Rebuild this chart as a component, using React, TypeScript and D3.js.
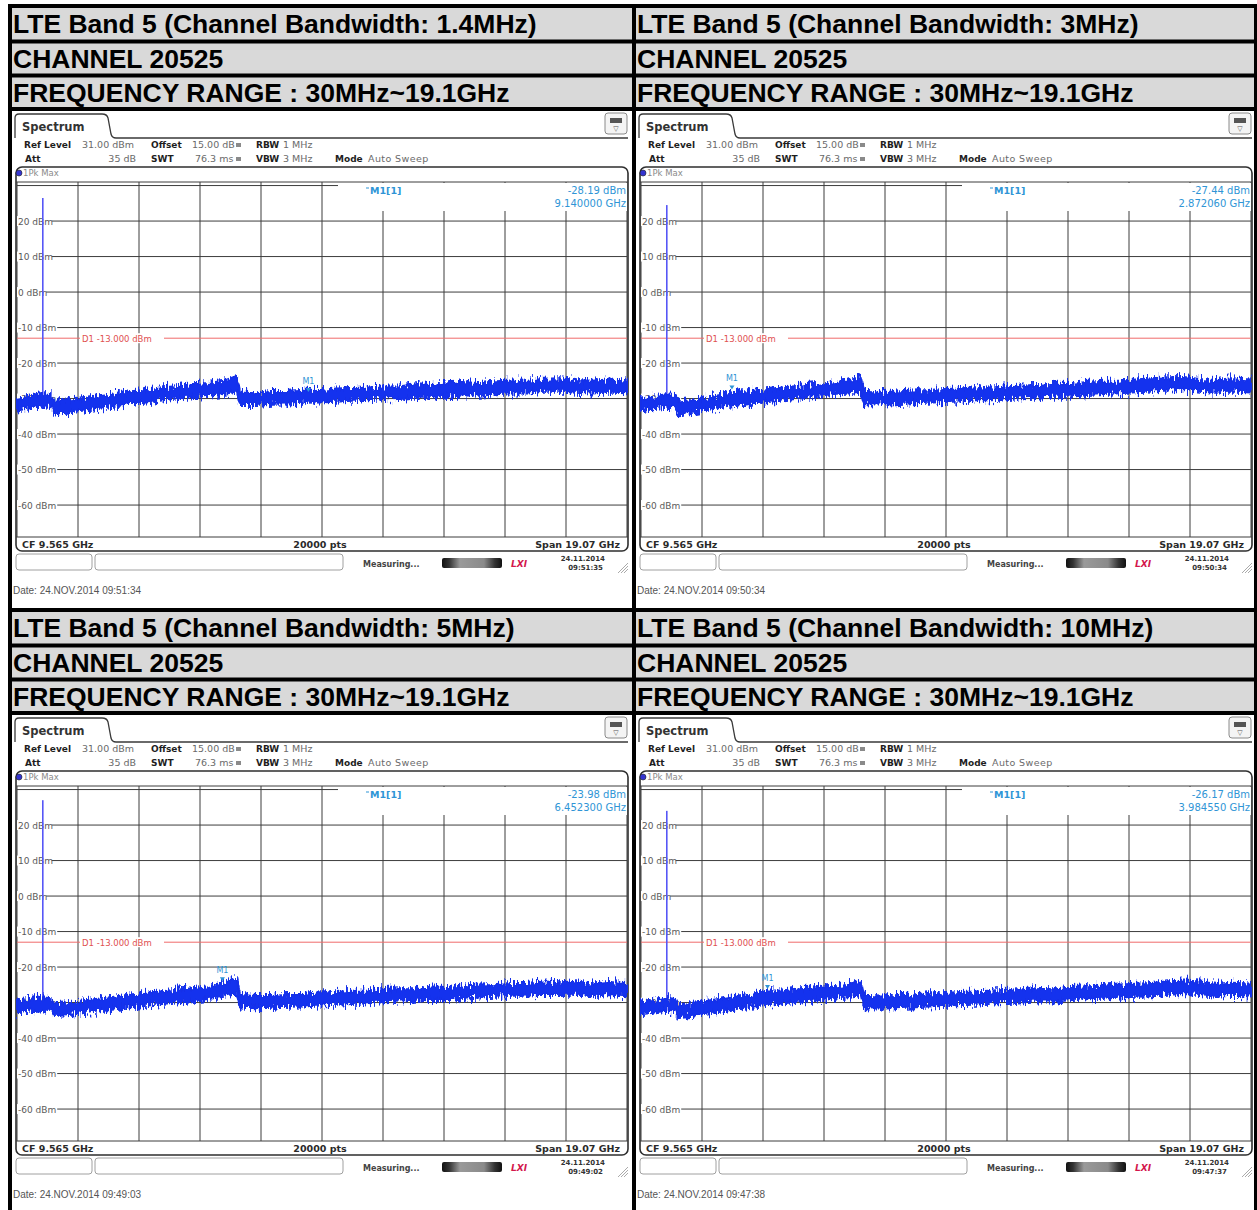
import React from "react";
import * as d3 from "d3";

// ---------------- Data ----------------
const PANEL_TITLES = [
  "LTE Band 5 (Channel Bandwidth: 1.4MHz)",
  "LTE Band 5 (Channel Bandwidth: 3MHz)",
  "LTE Band 5 (Channel Bandwidth: 5MHz)",
  "LTE Band 5 (Channel Bandwidth: 10MHz)",
];
const CHANNEL_TEXT = "CHANNEL 20525";
const RANGE_TEXT = "FREQUENCY RANGE : 30MHz~19.1GHz";

const START_GHZ = 0.03;
const STOP_GHZ = 19.1;
const REF_LEVEL_DBM = 31;
const BOTTOM_LEVEL_DBM = -69;
const DISPLAY_LINE_DBM = -13;

const Y_GRID_DBM = [30, 20, 10, 0, -10, -20, -30, -40, -50, -60];
const Y_LABEL_DBM = [20, 10, 0, -10, -20, -30, -40, -50, -60];

const FREQ_GHZ = [
  0.03, 0.4, 0.8, 1.1, 1.2, 1.6, 2.0, 2.5, 3.0, 3.5, 4.0, 4.5, 5.0, 5.5, 6.0, 6.5, 6.9, 7.0,
  7.5, 8.0, 8.5, 9.0, 9.5, 10.0, 10.5, 11.0, 11.5, 12.0, 12.5, 13.0, 13.5, 14.0, 14.5, 15.0,
  15.5, 16.0, 16.5, 17.0, 17.5, 18.0, 18.5, 19.1,
];

// upper / lower envelope of the max-hold noise trace (dBm)
const HI_1P4 = [
  -29.8, -29.2, -28.4, -28.8, -30.6, -30.3, -30.0, -29.4, -28.9, -28.0, -27.6, -26.9, -26.5, -26.0,
  -25.6, -25.0, -23.6, -28.0, -28.2, -27.9, -27.8, -27.5, -27.6, -27.2, -27.0, -26.9, -26.6, -26.5,
  -26.0, -26.2, -25.7, -25.4, -25.6, -25.1, -24.9, -25.0, -24.4, -24.3, -24.8, -25.0, -24.6, -24.9,
];
const LO_1P4 = [
  -33.4, -32.8, -32.2, -32.4, -34.2, -34.0, -33.5, -33.0, -32.4, -31.6, -31.2, -30.6, -30.0, -29.7,
  -29.2, -28.7, -28.0, -31.8, -31.8, -31.5, -31.4, -31.2, -31.1, -30.9, -30.6, -30.5, -30.2, -30.1,
  -29.7, -29.8, -29.4, -29.1, -29.2, -28.8, -28.5, -28.6, -28.1, -28.0, -28.4, -28.6, -28.3, -28.5,
];
const HI_3 = [
  -30.0, -29.5, -28.8, -29.0, -30.8, -30.4, -29.9, -29.0, -28.0, -27.9, -27.3, -26.8, -26.4, -25.9,
  -25.5, -24.9, -23.9, -27.8, -28.1, -28.0, -27.7, -27.6, -27.3, -27.2, -26.8, -26.9, -26.5, -26.3,
  -26.1, -25.8, -25.9, -25.3, -25.0, -24.9, -24.6, -24.3, -24.0, -23.9, -24.5, -24.8, -24.3, -24.6,
];
const LO_3 = [
  -33.6, -33.0, -32.6, -32.7, -34.4, -34.1, -33.4, -32.7, -32.0, -31.5, -31.0, -30.5, -30.0, -29.6,
  -29.1, -28.6, -28.0, -31.6, -31.7, -31.6, -31.3, -31.2, -31.0, -30.8, -30.5, -30.5, -30.1, -29.9,
  -29.7, -29.4, -29.5, -29.0, -28.7, -28.5, -28.2, -28.0, -27.7, -27.6, -28.1, -28.4, -28.0, -28.3,
];
const HI_5 = [
  -29.4, -29.0, -28.5, -28.8, -30.2, -29.9, -29.5, -29.0, -28.4, -27.8, -27.3, -26.9, -26.4, -26.0,
  -25.4, -24.2, -23.0, -27.6, -27.9, -27.8, -27.6, -27.5, -27.1, -27.0, -26.7, -26.6, -26.2, -26.0,
  -25.9, -25.5, -25.6, -25.2, -24.9, -24.8, -24.5, -24.4, -24.1, -24.3, -24.0, -24.6, -24.2, -24.5,
];
const LO_5 = [
  -33.0, -32.6, -32.2, -32.4, -33.8, -33.6, -33.1, -32.6, -32.0, -31.4, -31.0, -30.5, -30.0, -29.6,
  -29.0, -28.4, -27.6, -31.4, -31.6, -31.5, -31.2, -31.1, -30.8, -30.6, -30.4, -30.2, -29.9, -29.7,
  -29.5, -29.2, -29.3, -28.9, -28.6, -28.4, -28.1, -28.0, -27.8, -27.9, -27.7, -28.2, -27.9, -28.2,
];
const HI_10 = [
  -29.7, -29.3, -28.7, -28.9, -30.5, -30.1, -29.6, -28.9, -28.1, -27.5, -26.6, -26.5, -26.0, -25.7,
  -25.3, -24.8, -23.8, -27.8, -28.0, -27.9, -27.7, -27.4, -27.3, -27.0, -26.9, -26.6, -26.4, -26.2,
  -25.9, -26.0, -25.6, -25.4, -25.2, -24.9, -24.7, -24.5, -24.0, -23.8, -24.1, -24.7, -24.4, -24.6,
];
const LO_10 = [
  -33.3, -32.9, -32.3, -32.5, -34.1, -33.8, -33.2, -32.6, -31.8, -31.2, -30.6, -30.2, -29.7, -29.4,
  -29.0, -28.5, -27.8, -31.6, -31.7, -31.6, -31.4, -31.1, -31.0, -30.7, -30.6, -30.3, -30.1, -29.9,
  -29.6, -29.7, -29.3, -29.1, -28.9, -28.6, -28.4, -28.2, -27.8, -27.6, -27.9, -28.4, -28.1, -28.3,
];
const TRACE_HI = [HI_1P4, HI_3, HI_5, HI_10];
const TRACE_LO = [LO_1P4, LO_3, LO_5, LO_10];

const CARRIER_GHZ = 0.8365;
const CARRIER_PEAK_DBM = [26.5, 24.5, 27.0, 24.0];

const MARKER_FREQ_GHZ = [9.14, 2.87206, 6.4523, 3.98455];
const MARKER_LEVEL_DBM = [-28.19, -27.44, -23.98, -26.17];
const MARKER_LEVEL_TEXT = ["-28.19 dBm", "-27.44 dBm", "-23.98 dBm", "-26.17 dBm"];
const MARKER_FREQ_TEXT = ["9.140000 GHz", "2.872060 GHz", "6.452300 GHz", "3.984550 GHz"];
const STATUS_TIME = ["09:51:35", "09:50:34", "09:49:02", "09:47:37"];
const SAVE_TIME = ["09:51:34", "09:50:34", "09:49:03", "09:47:38"];

// ---------------- Layout ----------------
const INST = "'DejaVu Sans', Verdana, sans-serif";
const TITLE_FONT = "'Liberation Sans', Arial, Helvetica, sans-serif";
const COL_X = [12, 636];
const COL_W = [620, 618];
const BLOCKS = [
  { rows: [[8, 31.5], [43.5, 30], [77.5, 29.5]], img: [111, 497] },
  { rows: [[612, 31.5], [647.5, 30], [681.5, 29.5]], img: [715, 495] },
];

function Panel({ idx, x0, y0, w, h }: { idx: number; x0: number; y0: number; w: number; h: number }) {
  const x = d3.scaleLinear().domain([START_GHZ, STOP_GHZ]).range([5, 615]);
  const y = d3.scaleLinear().domain([BOTTOM_LEVEL_DBM, REF_LEVEL_DBM]).range([426, 71]);
  const pts = FREQ_GHZ.map((f, i) => ({ f, hi: TRACE_HI[idx][i], lo: TRACE_LO[idx][i] }));
  const areaPath = d3
    .area<{ f: number; hi: number; lo: number }>()
    .x((d) => x(d.f))
    .y0((d) => y(d.lo))
    .y1((d) => y(d.hi))(pts) as string;
  const xGrid = d3.range(11).map((i) => x(START_GHZ + (i * (STOP_GHZ - START_GHZ)) / 10));
  const clipId = `pclip${idx}`;
  const gradId = `pgrad${idx}`;
  const noiseId = `pnoise${idx}`;
  const mx = x(MARKER_FREQ_GHZ[idx]);
  const my = y(MARKER_LEVEL_DBM[idx]);
  const cx = x(CARRIER_GHZ);
  const textDark = "#1e1e1e";
  const textGrey = "#6a6a6a";
  const mkColor = "#2f95d6";
  return (
    <g transform={`translate(${x0},${y0})`}>
      <defs>
        <clipPath id={clipId}>
          <rect x={0} y={0} width={w} height={h} />
        </clipPath>
        <linearGradient id={gradId} x1="0" x2="1" y1="0" y2="0">
          <stop offset="0" stopColor="#111" />
          <stop offset="0.12" stopColor="#333" />
          <stop offset="0.3" stopColor="#9a9a9a" />
          <stop offset="0.7" stopColor="#8a8a8a" />
          <stop offset="0.88" stopColor="#333" />
          <stop offset="1" stopColor="#111" />
        </linearGradient>
        <filter
          id={noiseId}
          filterUnits="userSpaceOnUse"
          x={0}
          y={200}
          width={620}
          height={160}
          colorInterpolationFilters="sRGB"
        >
          <feTurbulence type="fractalNoise" baseFrequency="0.55 0.12" numOctaves={2} seed={idx + 4} result="t" />
          <feColorMatrix
            in="t"
            type="matrix"
            values="1.6 0 0 0 -0.3  0 0 0 0 0.5  0 0 0 0 0  0 0 0 0 1"
            result="m"
          />
          <feDisplacementMap in="SourceGraphic" in2="m" scale={10} xChannelSelector="G" yChannelSelector="R" />
        </filter>
      </defs>
      <g clipPath={`url(#${clipId})`}>
        <rect x={0} y={0} width={w} height={h} fill="#fff" />
        {/* tab */}
        <path
          d="M3,27 L3,7 Q3,3 7,3 L90,3 Q95,3 96,7 L99,23 Q100,27 104,27 L616,27"
          fill="none"
          stroke="#3a3a3a"
          strokeWidth={1.3}
        />
        <text x={10} y={20} fontFamily={INST} fontSize={11.5} fontWeight="bold" fill="#333">
          Spectrum
        </text>
        {/* icon box */}
        <rect x={593} y={2} width={22} height={21} rx={3} fill="#f4f4f4" stroke="#8a8a8a" />
        <rect x={598} y={7} width={12} height={5} fill="#555" />
        <text x={604} y={20} fontFamily={INST} fontSize={7} fill="#555" textAnchor="middle">
          ▽
        </text>
        {/* settings */}
        <g fontFamily={INST} fontSize={9}>
          <text x={12} y={36.5} fontWeight="bold" fill={textDark}>Ref Level</text>
          <text x={70} y={36.5} fill={textGrey} fontSize={9.5}>31.00 dBm</text>
          <text x={139} y={36.5} fontWeight="bold" fill={textDark}>Offset</text>
          <text x={180} y={36.5} fill={textGrey} fontSize={9.5}>15.00 dB</text>
          <rect x={224} y={32} width={5} height={4} fill="#8a8a8a" />
          <text x={244} y={36.5} fontWeight="bold" fill={textDark}>RBW</text>
          <text x={271} y={36.5} fill={textGrey} fontSize={9.5}>1 MHz</text>
          <text x={13} y={50.5} fontWeight="bold" fill={textDark}>Att</text>
          <text x={124} y={50.5} fill={textGrey} fontSize={9.5} textAnchor="end">35 dB</text>
          <text x={139} y={50.5} fontWeight="bold" fill={textDark}>SWT</text>
          <text x={183} y={50.5} fill={textGrey} fontSize={9.5}>76.3 ms</text>
          <rect x={224} y={46} width={5} height={4} fill="#8a8a8a" />
          <text x={244} y={50.5} fontWeight="bold" fill={textDark}>VBW</text>
          <text x={271} y={50.5} fill={textGrey} fontSize={9.5}>3 MHz</text>
          <text x={323} y={50.5} fontWeight="bold" fill={textDark}>Mode</text>
          <text x={356} y={50.5} fill={textGrey} fontSize={9.5} letterSpacing={0.4}>Auto Sweep</text>
        </g>
        {/* frame */}
        <rect x={4} y={56} width={612} height={384} rx={6} fill="#fff" stroke="#2e2e2e" strokeWidth={1.6} />
        <circle cx={7} cy={62} r={3} fill="#3434d0" stroke="#222" strokeWidth={0.6} />
        <text x={11} y={65} fontFamily={INST} fontSize={8.5} fill="#8a8a8a">1Pk Max</text>
        {/* grid */}
        <g stroke="#3c3c3c" strokeWidth={1}>
          <line x1={4} x2={616} y1={y(REF_LEVEL_DBM)} y2={y(REF_LEVEL_DBM)} />
          <line x1={4} x2={616} y1={y(BOTTOM_LEVEL_DBM)} y2={y(BOTTOM_LEVEL_DBM)} />
          {Y_GRID_DBM.map((v) => (
            <line key={v} x1={5} x2={615} y1={y(v)} y2={y(v)} />
          ))}
          {xGrid.map((gx, i) => (
            <line key={i} x1={gx} x2={gx} y1={y(REF_LEVEL_DBM)} y2={y(BOTTOM_LEVEL_DBM)} />
          ))}
        </g>
        {/* marker readout field */}
        <rect x={326} y={72} width={289} height={28} fill="#fff" />
        <g fontFamily={INST} fill={mkColor}>
          <line x1={354} x2={357} y1={77} y2={77} stroke={mkColor} strokeWidth={1} />
          <text x={358} y={83} fontSize={9.5} fontWeight="bold">M1[1]</text>
          <text x={614} y={83} fontSize={10} textAnchor="end">{MARKER_LEVEL_TEXT[idx]}</text>
          <text x={614} y={96} fontSize={10} textAnchor="end">{MARKER_FREQ_TEXT[idx]}</text>
        </g>
        {/* display line D1 */}
        <line x1={5} x2={615} y1={y(DISPLAY_LINE_DBM)} y2={y(DISPLAY_LINE_DBM)} stroke="#f06a6a" strokeWidth={1} />
        <rect x={68} y={y(DISPLAY_LINE_DBM) - 5} width={84} height={10} fill="#fff" />
        <text x={70} y={y(DISPLAY_LINE_DBM) + 3.5} fontFamily={INST} fontSize={8.5} fill="#e05050">
          D1  -13.000 dBm
        </text>
        {/* y labels */}
        {Y_LABEL_DBM.map((v) => {
          const t = `${v} dBm`;
          return (
            <g key={v}>
              <rect x={5} y={y(v) - 5} width={t.length * 5.6 + 1} height={10} fill="#fff" />
              <text x={6} y={y(v) + 3.5} fontFamily={INST} fontSize={9} fill="#5a5a5a">
                {t}
              </text>
            </g>
          );
        })}
        {/* carrier spike */}
        <line
          x1={cx}
          x2={cx}
          y1={y(CARRIER_PEAK_DBM[idx])}
          y2={y(TRACE_LO[idx][2])}
          stroke="#5656f6"
          strokeWidth={1.6}
        />
        {/* trace */}
        <path
          d={areaPath}
          fill="#1432ee"
          stroke="#1530e8"
          strokeWidth={2}
          strokeLinejoin="round"
          filter={`url(#${noiseId})`}
        />
        {/* marker */}
        <path d={`M${mx - 2.5},${my - 4} L${mx + 2.5},${my - 4} L${mx},${my} Z`} fill="#2f95d6" />
        <text x={mx} y={my - 8} fontFamily={INST} fontSize={8} fill={mkColor} textAnchor="middle">
          M1
        </text>
        {/* bottom status inside frame */}
        <g fontFamily={INST} fontSize={9.5} fontWeight="bold" fill="#2a2a2a">
          <text x={10} y={437}>CF 9.565 GHz</text>
          <text x={308} y={437} textAnchor="middle">20000 pts</text>
          <text x={608} y={437} textAnchor="end">Span 19.07 GHz</text>
        </g>
        {/* status bar */}
        <rect x={4} y={443} width={76} height={16} rx={3} fill="#fff" stroke="#a0a0a0" />
        <rect x={83} y={443} width={248} height={16} rx={3} fill="#fff" stroke="#a0a0a0" />
        <text x={351} y={456} fontFamily={INST} fontSize={8} fontWeight="bold" fill="#444">
          Measuring...
        </text>
        <rect x={430} y={447} width={60} height={10} rx={2} fill={`url(#${gradId})`} />
        <text x={507} y={456} fontFamily={INST} fontSize={9} fontWeight="bold" fontStyle="italic" fill="#d3174c" textAnchor="middle">
          LXI
        </text>
        <g fontFamily={INST} fontSize={7} fontWeight="bold" fill="#333" textAnchor="end">
          <text x={593} y={450}>24.11.2014</text>
          <text x={591} y={459}>{STATUS_TIME[idx]}</text>
        </g>
        <g stroke="#aaa" strokeWidth={1}>
          <line x1={606} y1={462} x2={616} y2={452} />
          <line x1={609} y1={462} x2={616} y2={455} />
          <line x1={612} y1={462} x2={616} y2={458} />
        </g>
        <text x={1} y={483} fontFamily={TITLE_FONT} fontSize={10} fill="#555">
          {`Date: 24.NOV.2014  ${SAVE_TIME[idx]}`}
        </text>
      </g>
    </g>
  );
}

export default function App() {
  return (
    <svg
      width={1257}
      height={1210}
      viewBox="0 0 1257 1210"
      style={{ position: "absolute", left: 0, top: 0, background: "#fff" }}
    >
      <rect x={8} y={4} width={1249} height={1206} fill="#000" />
      {BLOCKS.map((b, bi) =>
        [0, 1].map((ci) => {
          const idx = bi * 2 + ci;
          const texts = [PANEL_TITLES[idx], CHANNEL_TEXT, RANGE_TEXT];
          return (
            <g key={idx}>
              {b.rows.map(([ry, rh], ri) => (
                <g key={ri}>
                  <rect x={COL_X[ci]} y={ry} width={COL_W[ci]} height={rh} fill="#d9d9d9" />
                  <text
                    x={COL_X[ci] + 1}
                    y={ry + rh / 2 + 9.5}
                    fontFamily={TITLE_FONT}
                    fontSize={26.5}
                    fontWeight="bold"
                    fill="#000"
                  >
                    {texts[ri]}
                  </text>
                </g>
              ))}
              <Panel idx={idx} x0={COL_X[ci]} y0={b.img[0]} w={COL_W[ci]} h={b.img[1]} />
            </g>
          );
        })
      )}
    </svg>
  );
}
